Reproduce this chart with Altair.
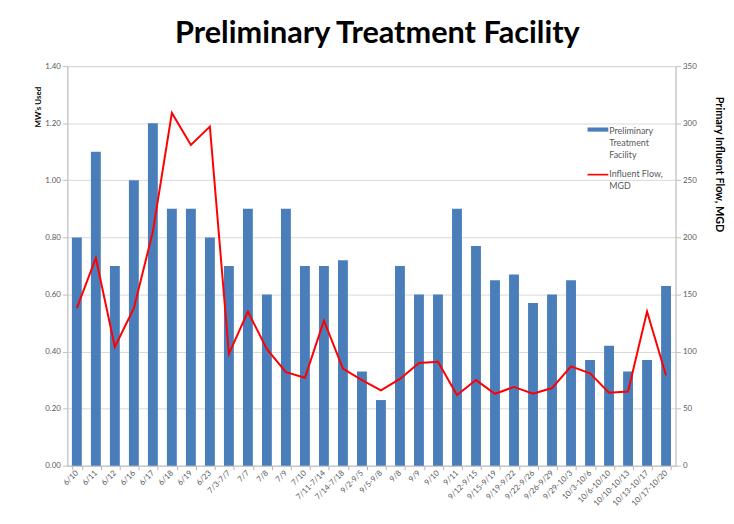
import altair as alt
import pandas as pd

categories = ["6/10", "6/11", "6/12", "6/16", "6/17", "6/18", "6/19", "6/23",
              "7/3-7/7", "7/7", "7/8", "7/9", "7/10", "7/11-7/14", "7/14-7/18",
              "9/2-9/5", "9/5-9/8", "9/8", "9/9", "9/10", "9/11", "9/12-9/15",
              "9/15-9/19", "9/19-9/22", "9/22-9/26", "9/26-9/29", "9/29-10/3",
              "10/3-10/6", "10/6-10/10", "10/10-10/13", "10/13-10/17", "10/17-10/20"]
mw_used = [0.80, 1.10, 0.70, 1.00, 1.20, 0.90, 0.90, 0.80,
           0.70, 0.90, 0.60, 0.90, 0.70, 0.70, 0.72,
           0.33, 0.23, 0.70, 0.60, 0.60, 0.90, 0.77,
           0.65, 0.67, 0.57, 0.60, 0.65,
           0.37, 0.42, 0.33, 0.37, 0.63]
influent_flow = [138, 182, 104, 138, 205, 309, 281, 297,
                 98, 135, 102, 82, 77, 127, 85,
                 75, 66, 76, 90, 91, 62, 75,
                 63, 69, 63, 68, 87,
                 81, 64, 65, 135, 79]
series_names = ["Preliminary Treatment Facility", "Influent Flow, MGD"]

df = pd.DataFrame({"cat": categories, "mw": mw_used, "flow": influent_flow})

BLUE = "#4a7ebb"
RED = "#ff0000"
FONT = "Lato"
GRAY = "#595959"

xenc = alt.X("cat:N", sort=categories, title=None,
             scale=alt.Scale(paddingInner=0.48, paddingOuter=0.24),
             axis=alt.Axis(labelAngle=315, labelAlign="right", labelBaseline="middle",
                           labelFontSize=8, labelColor=GRAY, labelFont=FONT,
                           tickBand="extent", tickColor="#d0a8a0", tickSize=4,
                           domainColor="#bfbfbf", labelPadding=2, labelOverlap=False))

color_scale = alt.Scale(domain=series_names, range=[BLUE, RED])
shape_scale = alt.Scale(domain=series_names,
                        range=["M-1,0.05H1V0.45H-1Z", "M-1,0.32H1V0.48H-1Z"])

bars = alt.Chart(df).mark_bar(color=BLUE).encode(
    x=xenc,
    y=alt.Y("mw:Q", title="MW's Used",
            scale=alt.Scale(domain=[0, 1.4]),
            axis=alt.Axis(values=[0, 0.2, 0.4, 0.6, 0.8, 1.0, 1.2, 1.4], format=".2f",
                          labelFontSize=8, labelColor=GRAY, labelFont=FONT,
                          tickColor="#bfbfbf", tickSize=5, domainColor="#bfbfbf",
                          gridColor="#d9d9d9", titleFontSize=8, titleFont=FONT,
                          titleFontWeight="bold", titleColor="#000000",
                          titleX=-29, titleY=41, titleAngle=270, titleAlign="center",
                          titleBaseline="middle")),
)

# legend-only layer: its points lie below the axis range and are clipped away
legend_df = pd.DataFrame({"cat": categories[:2], "mw": [-1.0, -1.0], "s": series_names})
legend_pts = alt.Chart(legend_df).mark_point(filled=True, clip=True, opacity=1).encode(
    x=alt.X("cat:N", sort=categories),
    y=alt.Y("mw:Q"),
    color=alt.Color("s:N", scale=color_scale, title=None,
                    legend=alt.Legend(orient="none", legendX=526, legendY=51,
                                      symbolSize=441, symbolStrokeWidth=0,
                                      labelFontSize=9, labelColor=GRAY, labelFont=FONT,
                                      labelExpr="datum.label == 'Preliminary Treatment Facility' ? ['Preliminary','Treatment','Facility'] : ['Influent Flow,','MGD']",
                                      labelBaseline="top", labelOffset=1, rowPadding=-7,
                                      labelLimit=200)),
    shape=alt.Shape("s:N", scale=shape_scale, title=None),
)

line = alt.Chart(df).mark_line(color=RED, strokeWidth=2).encode(
    x=alt.X("cat:N", sort=categories),
    y=alt.Y("flow:Q", title="Primary Influent Flow, MGD",
            scale=alt.Scale(domain=[0, 350]),
            axis=alt.Axis(orient="right", values=[0, 50, 100, 150, 200, 250, 300, 350],
                          labelFontSize=8, labelColor=GRAY, labelFont=FONT,
                          tickColor="#bfbfbf", tickSize=5, domainColor="#bfbfbf",
                          grid=False, titleFontSize=11, titleFont=FONT,
                          titleFontWeight="bold", titleColor="#000000",
                          titleAngle=90, titleX=43, titleY=99, titleAlign="center",
                          titleBaseline="middle")),
)

chart = alt.layer(alt.layer(bars, legend_pts), line).resolve_scale(y="independent").properties(
    width=615, height=404,
    padding={"left": 60, "top": 56, "right": 51, "bottom": 42},
    autosize=alt.AutoSizeParams(type="none"),
    title=alt.Title("Preliminary Treatment Facility", font=FONT, fontSize=31,
                    fontWeight="bold", color="#000000", anchor="middle", offset=12, dx=6),
).configure_view(stroke=None).configure(
    style={"guide-label": {"lineHeight": 12}}
)

chart.save("out.html", embed_options={"renderer": "svg", "actions": False})
